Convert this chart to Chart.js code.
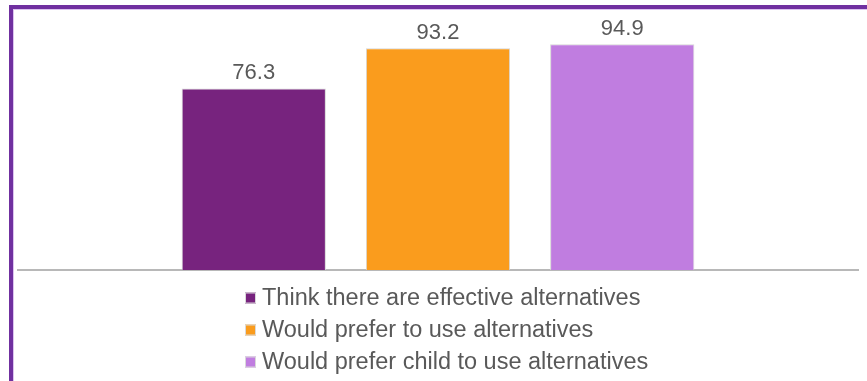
<!DOCTYPE html>
<html>
<head>
<meta charset="utf-8">
<script src="https://cdn.jsdelivr.net/npm/chart.js@4/dist/chart.umd.min.js"></script>
<style>
  html, body { margin: 0; padding: 0; background: #fff; overflow: hidden; }
  #wrap { position: relative; width: 867px; height: 381px; }
  /* purple frame around the panel (only left and top edges are visible) */
  #frame {
    position: absolute; left: 9px; top: 5px; width: 900px; height: 420px;
    border-left: 4px solid #7030a0; border-top: 4px solid #7030a0;
    box-shadow: inset 1px 1px 0 #dcc3ef;
  }
  canvas { position: absolute; left: 0; top: 0; }
</style>
</head>
<body>
<div id="wrap">
  <div id="frame"></div>
  <canvas id="altChart" width="867" height="381"></canvas>
</div>
<script>
// Series names, values and colours
const seriesLabels = [
    'Think there are effective alternatives',
    'Would prefer to use alternatives',
    'Would prefer child to use alternatives'
];
const seriesValues = [76.3, 93.2, 94.9];
const seriesColors = ['#77237e', '#fa9c1d', '#c07de0'];
const categories = [''];

const textColor = '#595959';
const fontFamily = '"Liberation Sans", Arial, sans-serif';

// Value labels drawn above each bar
const valueLabels = {
    id: 'valueLabels',
    afterDatasetsDraw(chart) {
        const ctx = chart.ctx;
        ctx.save();
        ctx.fillStyle = textColor;
        ctx.font = '22px ' + fontFamily;
        ctx.textAlign = 'center';
        ctx.textBaseline = 'alphabetic';
        chart.data.datasets.forEach((ds, i) => {
            const meta = chart.getDatasetMeta(i);
            meta.data.forEach((bar, j) => {
                ctx.fillText(ds.data[j].toFixed(1), bar.x, bar.y - 9);
            });
        });
        ctx.restore();
    }
};

// Legend stacked vertically under the axis
const stackedLegend = {
    id: 'stackedLegend',
    afterDraw(chart) {
        const ctx = chart.ctx;
        const boxX = 245, textX = 262, firstY = 298, rowGap = 32, box = 11;
        ctx.save();
        ctx.font = '23.5px ' + fontFamily;
        ctx.textBaseline = 'middle';
        ctx.textAlign = 'left';
        chart.data.datasets.forEach((ds, i) => {
            const y = firstY + i * rowGap;
            ctx.fillStyle = ds.backgroundColor;
            ctx.fillRect(boxX, y - box / 2, box, box);
            ctx.strokeStyle = '#d9d9d9';
            ctx.lineWidth = 1;
            ctx.strokeRect(boxX + 0.5, y - box / 2 + 0.5, box - 1, box - 1);
            ctx.fillStyle = textColor;
            ctx.fillText(ds.label, textX, y + 1);
        });
        ctx.restore();
    }
};

const createAltChart = () => {
    const ctx = document.getElementById('altChart').getContext('2d');

    const datasets = seriesLabels.map((label, i) => ({
        label: label,
        data: [seriesValues[i]],
        backgroundColor: seriesColors[i],
        borderColor: '#d6d6d6',
        borderWidth: 1,
        categoryPercentage: 0.658,
        barPercentage: 0.783
    }));

    new Chart(ctx, {
        type: 'bar',
        data: {
            labels: categories,
            datasets: datasets
        },
        options: {
            responsive: false,
            animation: false,
            layout: {
                padding: { top: 32, bottom: 111, left: 18, right: 9 }
            },
            plugins: {
                legend: { display: false },
                tooltip: { enabled: false }
            },
            scales: {
                x: {
                    grid: { display: false, drawTicks: false },
                    border: { display: true, color: '#b8b8b8', width: 2 },
                    ticks: { display: false }
                },
                y: {
                    display: false,
                    min: 0,
                    max: 100
                }
            }
        },
        plugins: [valueLabels, stackedLegend]
    });
};

createAltChart();
</script>
</body>
</html>
